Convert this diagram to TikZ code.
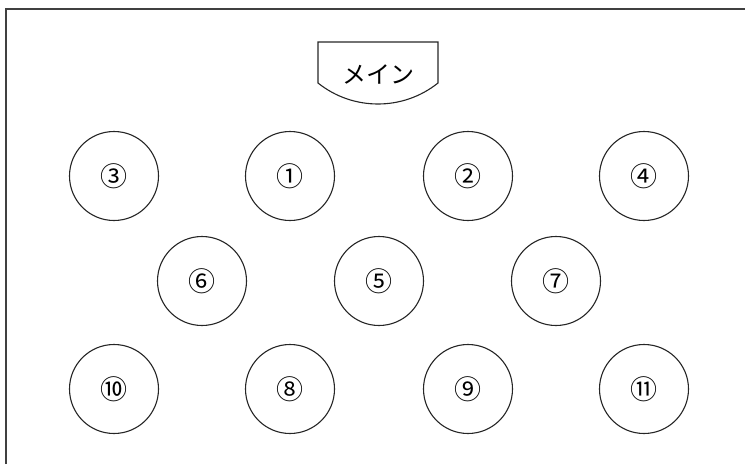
\documentclass[tikz,border=0pt]{standalone}
\usepackage{fontspec}
\newfontfamily\jp{Noto Sans CJK JP}
\begin{document}
\begin{tikzpicture}[x=1pt,y=-1pt,
  seat/.style={draw=black!85,line width=1.1pt,circle,minimum size=89pt,inner sep=0pt,font=\jp\fontsize{27}{27}\selectfont},
  frame/.style={draw=black!75,line width=2pt},
  mainbox/.style={draw=black!85,line width=1.1pt}]
\useasboundingbox (0,0) rectangle (745,464);
\coordinate (fa) at (5.5,464);
\coordinate (fb) at (5.5,8.5);
\coordinate (fc) at (745,8.5);
\draw[frame] (fa) -- (fb) -- (fc);
\draw[mainbox] (318,83) -- (318,42) -- (438,42) -- (438,83) .. controls (403,111) and (353,111) .. cycle;
\node[font=\jp\fontsize{24}{24}\selectfont] (main) at (378,74) {メイン};
\node[seat] (s3) at (114,176) {③};
\node[seat] (s1) at (290,176) {①};
\node[seat] (s2) at (468,176) {②};
\node[seat] (s4) at (644,176) {④};
\node[seat] (s6) at (202,281) {⑥};
\node[seat] (s5) at (379,281) {⑤};
\node[seat] (s7) at (556,281) {⑦};
\node[seat] (s10) at (114,389) {⑩};
\node[seat] (s8) at (290,389) {⑧};
\node[seat] (s9) at (468,389) {⑨};
\node[seat] (s11) at (644,389) {⑪};
\end{tikzpicture}
\end{document}
